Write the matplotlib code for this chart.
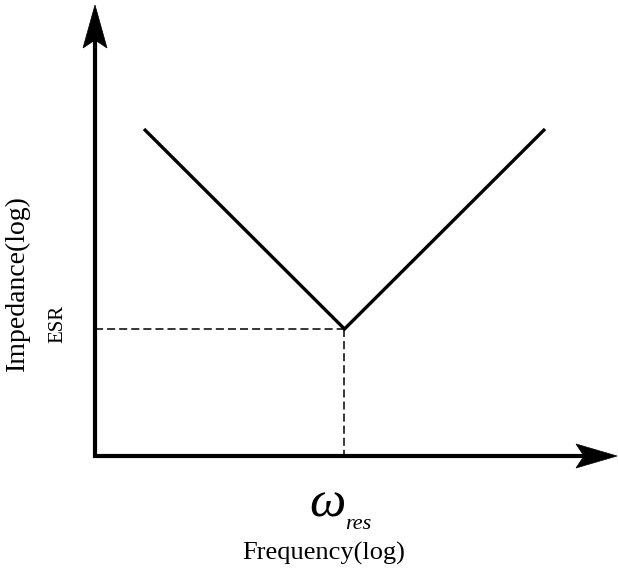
import matplotlib
matplotlib.use("Agg")
import matplotlib.pyplot as plt
from matplotlib.patches import Polygon, Rectangle
from matplotlib.transforms import Affine2D
import numpy as np

# ---- data (log-log V-shaped impedance curve) ----
frequency = [0.1, 1.0, 10.0]        # rad/s (relative), log scale
impedance = [100.0, 1.0, 100.0]     # relative, log scale
f_res = 1.0
esr = 1.0
x_label = "Frequency(log)"
y_label = "Impedance(log)"
esr_label = "ESR"

W, H = 618, 569
fig = plt.figure(figsize=(W / 100, H / 100), dpi=100)
ax = fig.add_axes([0, 0, 1, 1])
ax.set_xscale("log")
ax.set_yscale("log")
# map: x=0.1 -> px 144, x=10 -> px 545 ; y=1 -> px 329, y=100 -> px 129
xpd = (545 - 144) / 2.0
ypd = (329 - 129) / 2.0
ax.set_xlim(10 ** (-1 - 144 / xpd), 10 ** (-1 + (W - 144) / xpd))
ax.set_ylim(10 ** (-(H - 329) / ypd), 10 ** (329 / ypd))
ax.axis("off")

# pixel transform (origin top-left)
pix = Affine2D().scale(1 / W, -1 / H).translate(0, 1) + fig.transFigure

def px_to_data(px, py):
    disp = pix.transform((px, py))
    return ax.transData.inverted().transform(disp)

ox, oy = px_to_data(95, 456)

# V curve
ax.plot(frequency, impedance, color="black", lw=2.4, solid_capstyle="butt",
        solid_joinstyle="miter")

# dashed guides
matplotlib.rcParams["lines.scale_dashes"] = False
ax.plot([ox, f_res], [esr, esr], color="black", lw=1.1, dashes=(5.8, 2.9))
ax.plot([f_res, f_res], [esr, oy], color="black", lw=1.1, dashes=(5.8, 2.9))

# axes lines with arrow heads (pixel coords)
ax.plot([95, 95], [458, 40], color="black", lw=3.0, transform=pix,
        solid_capstyle="butt", clip_on=False)
ax.plot([93, 585], [456, 456], color="black", lw=3.0, transform=pix,
        solid_capstyle="butt", clip_on=False)
up = Polygon([(95, 5), (107, 48), (95, 40), (83, 48)], closed=True,
             facecolor="black", edgecolor="black", lw=0.5, transform=pix)
right = Polygon([(617, 456), (576, 444), (584, 456), (576, 468)], closed=True,
                facecolor="black", edgecolor="black", lw=0.5, transform=pix)
ax.add_patch(up)
ax.add_patch(right)

serif = ["Liberation Serif", "DejaVu Serif"]
ax.text(17, 283, y_label, transform=pix, rotation=90, ha="center", va="center",
        fontsize=20, family=serif)
ax.text(57.5, 324, esr_label, transform=pix, rotation=90, ha="center",
        va="center", fontsize=15, family=serif)
ax.text(324, 553, x_label, transform=pix, ha="center", va="center",
        fontsize=19, family=serif)
ax.text(309, 517, "\u03c9", transform=pix, ha="left", va="baseline",
        fontsize=37, family=serif, style="italic")
t = ax.text(345, 529, "res", transform=pix, ha="left", va="baseline",
            fontsize=16, family=serif, style="italic")
clip = Rectangle((300, 500), 120, 28.5, transform=pix, visible=False)
ax.add_patch(clip)
t.set_clip_on(True)
t.set_clip_path(clip)

fig.savefig("out.png", dpi=100)
